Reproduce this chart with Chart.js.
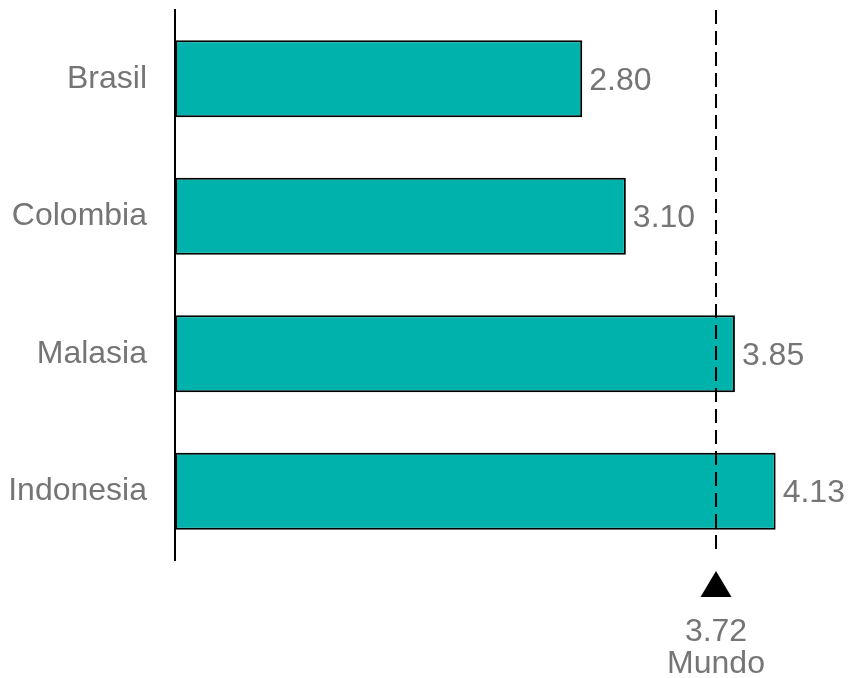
<!DOCTYPE html>
<html>
<head>
<meta charset="utf-8">
<script src="https://cdn.jsdelivr.net/npm/chart.js@4/dist/chart.umd.min.js"></script>
<style>
  html, body { margin: 0; padding: 0; background: #fff; }
  #wrap { width: 848px; height: 678px; }
</style>
</head>
<body>
<div id="wrap"><canvas id="barChart" width="848" height="678"></canvas></div>
<script>
const countries = ['Brasil', 'Colombia', 'Malasia', 'Indonesia'];
const scores = [2.80, 3.10, 3.85, 4.13];
const worldValue = 3.72;
const worldLabel = 'Mundo';

const FONT = '"Liberation Sans", Arial, sans-serif';
const GREY = '#757575';

// value labels at the end of each bar
const valueLabels = {
  id: 'valueLabels',
  afterDatasetsDraw(chart) {
    const ctx = chart.ctx;
    const meta = chart.getDatasetMeta(0);
    ctx.save();
    ctx.font = '32px ' + FONT;
    ctx.fillStyle = GREY;
    ctx.textAlign = 'left';
    ctx.textBaseline = 'middle';
    meta.data.forEach((bar, i) => {
      ctx.fillText(scores[i].toFixed(2), bar.x + 7, bar.y + 2);
    });
    ctx.restore();
  }
};

// dashed world reference line + marker below the chart
const worldMarker = {
  id: 'worldMarker',
  afterDatasetsDraw(chart) {
    const ctx = chart.ctx;
    const area = chart.chartArea;
    const x = chart.scales.x.getPixelForValue(worldValue);
    ctx.save();
    ctx.strokeStyle = '#000';
    ctx.lineWidth = 2;
    ctx.setLineDash([14, 7]);
    ctx.beginPath();
    ctx.moveTo(x, area.top);
    ctx.lineTo(x, area.bottom - 7);
    ctx.stroke();
    ctx.setLineDash([]);

    const top = area.bottom + 11;
    ctx.fillStyle = '#000';
    ctx.beginPath();
    ctx.moveTo(x, top);
    ctx.lineTo(x + 15.5, top + 26);
    ctx.lineTo(x - 15.5, top + 26);
    ctx.closePath();
    ctx.fill();

    ctx.font = '32px ' + FONT;
    ctx.fillStyle = GREY;
    ctx.textAlign = 'center';
    ctx.textBaseline = 'middle';
    ctx.fillText(worldValue.toFixed(2), x, area.bottom + 72);
    ctx.fillText(worldLabel, x, area.bottom + 104);
    ctx.restore();
  }
};

new Chart(document.getElementById('barChart'), {
  type: 'bar',
  data: {
    labels: countries,
    datasets: [{
      data: scores,
      backgroundColor: '#00b2ac',
      borderColor: '#000',
      borderWidth: 2,
      borderSkipped: false,
      categoryPercentage: 1,
      barPercentage: 0.56
    }]
  },
  options: {
    indexAxis: 'y',
    responsive: false,
    animation: false,
    layout: { padding: { top: 10, bottom: 118, right: 4, left: 0 } },
    plugins: {
      legend: { display: false },
      tooltip: { enabled: false }
    },
    scales: {
      x: {
        display: false,
        min: 0,
        max: 4.6
      },
      y: {
        afterFit(scale) {
          scale.width = 175;
          scale.paddingTop = 0;
          scale.paddingBottom = 0;
        },
        grid: { display: false },
        border: { display: true, color: '#000', width: 2 },
        ticks: {
          padding: 20,
          color: GREY,
          font: { family: FONT, size: 32 }
        }
      }
    }
  },
  plugins: [valueLabels, worldMarker]
});
</script>
</body>
</html>
